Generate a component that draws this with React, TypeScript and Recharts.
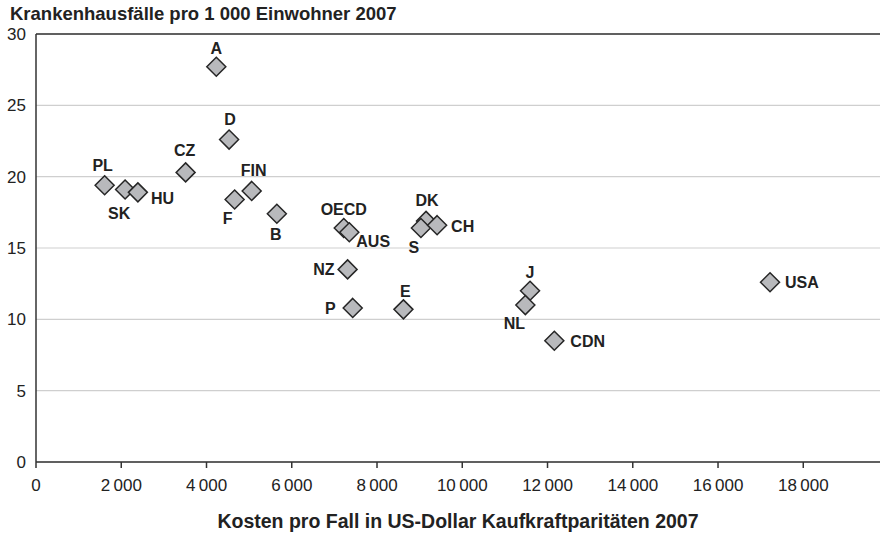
import { ScatterChart, Scatter, XAxis, YAxis, CartesianGrid, ReferenceLine } from "recharts";

const countries = ["A", "D", "CZ", "PL", "SK", "HU", "FIN", "F", "B", "OECD", "AUS", "DK", "S", "CH", "NZ", "P", "E", "J", "NL", "CDN", "USA"];
const costPerCase = [4230, 4530, 3510, 1610, 2090, 2390, 5060, 4660, 5650, 7220, 7350, 9150, 9030, 9410, 7310, 7430, 8620, 11590, 11480, 12160, 17220];
const casesPer1000 = [27.7, 22.6, 20.3, 19.4, 19.1, 18.9, 19.0, 18.4, 17.4, 16.4, 16.1, 16.9, 16.4, 16.6, 13.5, 10.8, 10.7, 12.0, 11.0, 8.5, 12.6];
const xTicks = [0, 2000, 4000, 6000, 8000, 10000, 12000, 14000, 16000, 18000];
const yTicks = [0, 5, 10, 15, 20, 25, 30];

const points = countries.map((name, i) => ({ name, cost: costPerCase[i], cases: casesPer1000[i] }));

// label placement next to each diamond: dx, dy, anchor
const labelPos: Record<string, [number, number, string]> = {
  A: [0, -13, "middle"],
  D: [1, -15, "middle"],
  CZ: [-1, -16, "middle"],
  PL: [-2, -14, "middle"],
  SK: [-6, 29, "middle"],
  HU: [13, 12, "start"],
  FIN: [2, -15, "middle"],
  F: [-7, 25, "middle"],
  B: [-1, 26, "middle"],
  OECD: [0, -13, "middle"],
  AUS: [7, 15, "start"],
  DK: [1, -15, "middle"],
  S: [-7, 25, "middle"],
  CH: [14, 7, "start"],
  NZ: [-13, 6, "end"],
  P: [-17, 6, "end"],
  E: [2, -12, "middle"],
  J: [0, -13, "middle"],
  NL: [-11, 24, "middle"],
  CDN: [16, 6, "start"],
  USA: [15, 6, "start"],
};

const font = "'Liberation Sans', Arial, sans-serif";
const fmt = (v: number) => (v >= 1000 ? `${Math.floor(v / 1000)}\u2009${String(v % 1000).padStart(3, "0")}` : String(v));

function Diamond(props: any) {
  const { cx, cy, payload } = props;
  const r = 9.5;
  const [dx, dy, anchor] = labelPos[payload.name] || [0, -13, "middle"];
  return (
    <g>
      <polygon
        points={`${cx},${cy - r} ${cx + r},${cy} ${cx},${cy + r} ${cx - r},${cy}`}
        fill="#b8b9bc"
        stroke="#262626"
        strokeWidth={1.5}
      />
      <text x={cx + dx} y={cy + dy} textAnchor={anchor as any} fontFamily={font} fontWeight="bold" fontSize={16} fill="#222">
        {payload.name}
      </text>
    </g>
  );
}

export default function App() {
  return (
    <div style={{ position: "absolute", left: 0, top: 0, width: 881, height: 534, background: "#fff" }}>
      <div style={{ position: "absolute", left: 10, top: 3, fontFamily: font, fontWeight: "bold", fontSize: 18.5, color: "#222" }}>
        Krankenhausfälle pro 1 000 Einwohner 2007
      </div>
      <ScatterChart width={881} height={534} margin={{ top: 34, right: 1, bottom: 0, left: 0 }}>
        <CartesianGrid horizontal vertical={false} stroke="#cfcfcf" strokeWidth={1.2} />
        <XAxis
          type="number"
          dataKey="cost"
          domain={[0, 19800]}
          ticks={xTicks}
          tickFormatter={fmt}
          height={72}
          stroke="#333"
          strokeWidth={1.5}
          tickSize={6}
          tickMargin={11}
          tick={{ fill: "#222", fontSize: 17, fontFamily: font }}
          label={{ value: "Kosten pro Fall in US-Dollar Kaufkraftparitäten 2007", position: "insideBottom", offset: 6, fill: "#222", fontSize: 19.5, fontWeight: "bold", fontFamily: font }}
        />
        <YAxis
          type="number"
          dataKey="cases"
          domain={[0, 30]}
          ticks={yTicks}
          width={36}
          stroke="#333"
          strokeWidth={1.5}
          tickLine={false}
          tickSize={0}
          tickMargin={10}
          tick={{ fill: "#222", fontSize: 17, fontFamily: font }}
        />
        <ReferenceLine y={30} stroke="#333" strokeWidth={1.5} />
        <Scatter data={points} shape={<Diamond />} isAnimationActive={false} />
      </ScatterChart>
    </div>
  );
}
